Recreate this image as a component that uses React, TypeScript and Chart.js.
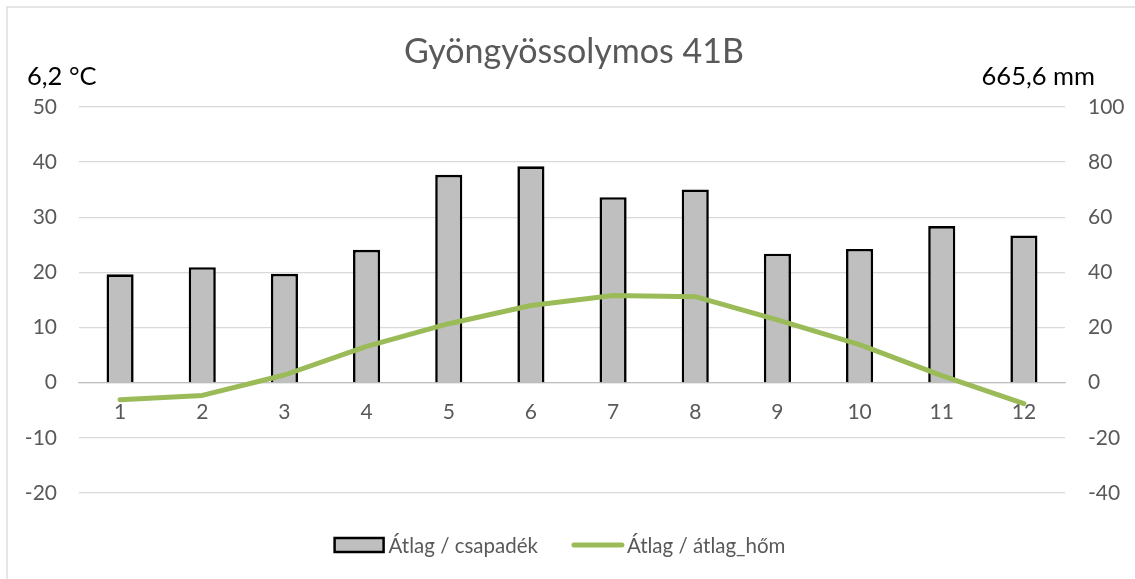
import React, { useEffect, useRef } from "react";
import { Chart, registerables } from "chart.js";

Chart.register(...registerables);

const months = ["1", "2", "3", "4", "5", "6", "7", "8", "9", "10", "11", "12"];
const precipitation = [39.3, 41.9, 39.5, 48.2, 75.4, 78.5, 67.3, 70.1, 46.8, 48.5, 56.8, 53.4];
const temperature = [-3.1, -2.3, 1.4, 6.6, 10.7, 14.0, 15.8, 15.6, 11.4, 6.9, 1.3, -3.8];
const tempAxis = [-20, 50, 10];
const precipAxis = [-40, 100, 20];
const chartTitle = "Gyöngyössolymos 41B";
const tempNote = "6,2 °C";
const precipNote = "665,6 mm";
const precipLabel = "Átlag / csapadék";
const tempLabel = "Átlag / átlag_hőm";

const FONT = "Lato, 'Open Sans', sans-serif";
const GREY_TEXT = "#595959";
const BAR_FILL = "#bfbfbf";
const LINE_GREEN = "#9bbb59";

const decor = {
  id: "decor",
  beforeDraw(chart: any) {
    const ctx = chart.ctx;
    ctx.save();
    ctx.fillStyle = "#ffffff";
    ctx.fillRect(0, 0, chart.width, chart.height);
    ctx.strokeStyle = "#d9d9d9";
    ctx.lineWidth = 1.3;
    ctx.strokeRect(7, 7, chart.width + 40, chart.height + 40);
    ctx.restore();
  },
  afterDraw(chart: any) {
    const ctx = chart.ctx;
    ctx.save();
    // title
    ctx.fillStyle = GREY_TEXT;
    ctx.font = `34px ${FONT}`;
    ctx.textAlign = "center";
    ctx.textBaseline = "alphabetic";
    ctx.fillText(chartTitle, 574, 63);
    // corner notes
    ctx.fillStyle = "#000000";
    ctx.font = `25.5px ${FONT}`;
    ctx.textAlign = "left";
    ctx.fillText(tempNote, 27, 85);
    ctx.textAlign = "right";
    ctx.fillText(precipNote, 1095, 85);
    // legend
    ctx.font = `20.5px ${FONT}`;
    const w1 = ctx.measureText(precipLabel).width;
    const w2 = ctx.measureText(tempLabel).width;
    const total = 49 + 5 + w1 + 34 + 52 + 3 + w2;
    let x = 560 - total / 2;
    const cy = 545;
    ctx.fillStyle = BAR_FILL;
    ctx.strokeStyle = "#000000";
    ctx.lineWidth = 2.5;
    ctx.fillRect(x, cy - 7, 49, 14);
    ctx.strokeRect(x, cy - 7, 49, 14);
    x += 49 + 5;
    ctx.fillStyle = GREY_TEXT;
    ctx.textAlign = "left";
    ctx.textBaseline = "middle";
    ctx.fillText(precipLabel, x, cy + 1);
    x += w1 + 34;
    ctx.strokeStyle = LINE_GREEN;
    ctx.lineWidth = 5;
    ctx.lineCap = "round";
    ctx.beginPath();
    ctx.moveTo(x + 2, cy);
    ctx.lineTo(x + 50, cy);
    ctx.stroke();
    x += 52 + 3;
    ctx.fillText(tempLabel, x, cy + 1);
    ctx.restore();
  },
};

export default function App() {
  const ref = useRef<HTMLCanvasElement | null>(null);

  useEffect(() => {
    if (!ref.current) return;
    Chart.defaults.font.family = FONT;
    const chart = new Chart(ref.current, {
      type: "bar",
      data: {
        labels: months,
        datasets: [
          {
            type: "bar",
            label: precipLabel,
            data: precipitation,
            yAxisID: "y1",
            backgroundColor: BAR_FILL,
            borderColor: "#000000",
            borderWidth: 2.6,
            barPercentage: 0.33,
            categoryPercentage: 1,
            order: 2,
          },
          {
            type: "line",
            label: tempLabel,
            data: temperature,
            yAxisID: "y",
            borderColor: LINE_GREEN,
            backgroundColor: LINE_GREEN,
            borderWidth: 5,
            pointRadius: 0,
            tension: 0,
            borderCapStyle: "round",
            borderJoinStyle: "round",
            order: 1,
          },
        ],
      },
      options: {
        responsive: false,
        animation: false,
        layout: { padding: { left: 0, right: 0, top: 107, bottom: 86 } },
        plugins: {
          legend: { display: false },
          title: { display: false },
          tooltip: { enabled: false },
        },
        scales: {
          x: {
            type: "category",
            position: { y: 0 },
            offset: true,
            grid: { display: false, drawTicks: false },
            border: { display: true, color: "#bfbfbf", width: 1.3 },
            ticks: {
              color: GREY_TEXT,
              font: { size: 21, family: FONT },
              padding: 17,
              maxRotation: 0,
              autoSkip: false,
            },
            afterFit: (s: any) => {
              s.height = 0;
            },
          },
          y: {
            position: "left",
            min: tempAxis[0],
            max: tempAxis[1],
            grid: { color: "#d9d9d9", lineWidth: 1.3, drawTicks: false },
            border: { display: false },
            ticks: {
              stepSize: tempAxis[2],
              color: GREY_TEXT,
              font: { size: 21, family: FONT },
              padding: 22,
            },
            afterFit: (s: any) => {
              s.width = 79;
            },
          },
          y1: {
            position: "right",
            min: precipAxis[0],
            max: precipAxis[1],
            grid: { drawOnChartArea: false, drawTicks: false },
            border: { display: false },
            ticks: {
              stepSize: precipAxis[2],
              color: GREY_TEXT,
              font: { size: 21, family: FONT },
              padding: 23,
            },
            afterFit: (s: any) => {
              s.width = 70;
            },
          },
        },
      },
      plugins: [decor],
    });
    return () => chart.destroy();
  }, []);

  return (
    <div style={{ position: "absolute", left: 0, top: 0, width: 1135, height: 579 }}>
      <canvas ref={ref} width={1135} height={579} />
    </div>
  );
}
